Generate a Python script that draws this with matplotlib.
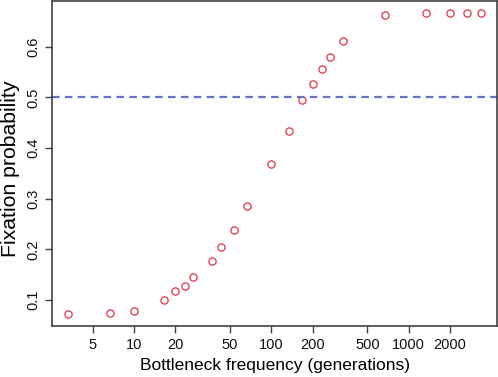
import matplotlib
matplotlib.use("Agg")
import matplotlib.pyplot as plt
import numpy as np

freq = [10/3, 20/3, 10, 50/3, 20, 70/3, 80/3, 110/3, 130/3, 160/3, 200/3,
        100, 400/3, 500/3, 200, 700/3, 800/3, 1000/3, 2000/3, 4000/3, 2000,
        8000/3, 10000/3]
prob = [0.0725, 0.0745, 0.0777, 0.1002, 0.1172, 0.1279, 0.1457, 0.1773,
        0.2042, 0.2378, 0.2860, 0.3676, 0.4334, 0.4947, 0.5271, 0.5553,
        0.5791, 0.6121, 0.6621, 0.6666, 0.6666, 0.6666, 0.6666]
xticks = [5, 10, 20, 50, 100, 200, 500, 1000, 2000]
xticklabels = ["5", "10", "20", "50", "100", "200", "500", "1000", "2000"]
yticks = [0.1, 0.2, 0.3, 0.4, 0.5, 0.6]
yticklabels = ["0.1", "0.2", "0.3", "0.4", "0.5", "0.6"]
threshold = 0.5

plt.rcParams['font.family'] = ['Liberation Sans', 'DejaVu Sans']

fig = plt.figure(figsize=(4.98, 3.77), dpi=100)
ax = fig.add_axes([52/498, 1 - 326/377, (497 - 52)/498, (326 - 1)/377])

ax.plot(freq, prob, linestyle='none', marker='o', markersize=5.2,
        markerfacecolor='none', markeredgecolor='#DD3344', markeredgewidth=0.9)
ax.axhline(threshold, color='#6672C6', linewidth=1.6, linestyle=(0, (3.4, 2.4)))

ax.set_xscale('log')
lx = np.log10([min(freq), max(freq)])
pad = (lx[1] - lx[0]) * 0.04
ax.set_xlim(10 ** (lx[0] - pad), 10 ** (lx[1] + pad))
ypad = (max(prob) - min(prob)) * 0.04
ax.set_ylim(min(prob) - ypad, max(prob) + ypad)

ax.set_xticks(xticks)
ax.set_xticklabels(xticklabels)
ax.xaxis.set_minor_locator(matplotlib.ticker.NullLocator())
ax.set_yticks(yticks)
ax.set_yticklabels(yticklabels, rotation=90, va='center')

ax.tick_params(axis='both', direction='out', length=5, width=1, color='#444444',
               labelsize=10.5, pad=3.5, labelcolor='#111111')
for s in ax.spines.values():
    s.set_color('#333333')
    s.set_linewidth(1.1)

ax.set_xlabel('Bottleneck frequency (generations)', fontsize=12.5)
ylab = ax.set_ylabel('Fixation probability', fontsize=12.5)
ax.xaxis.set_label_coords(0.5, -(358 - 326) / 325 + 0.0, transform=ax.transAxes)
ax.xaxis.label.set_va('top')

# size the y label so its length matches the reference (~178 px)
fig.canvas.draw()
r = fig.canvas.get_renderer()
h = ylab.get_window_extent(r).height
ylab.set_fontsize(12.5 * 178 / h)
ax.yaxis.set_label_coords(-(52 - 19) / 445, (326 - 169) / 325)
fig.canvas.draw()
bb = ylab.get_window_extent(fig.canvas.get_renderer())
if bb.x0 < 1:
    shift = 1 - bb.x0
    ax.yaxis.set_label_coords(-(52 - 19 - shift) / 445, (326 - 169) / 325)

fig.savefig('out.png', dpi=100)
